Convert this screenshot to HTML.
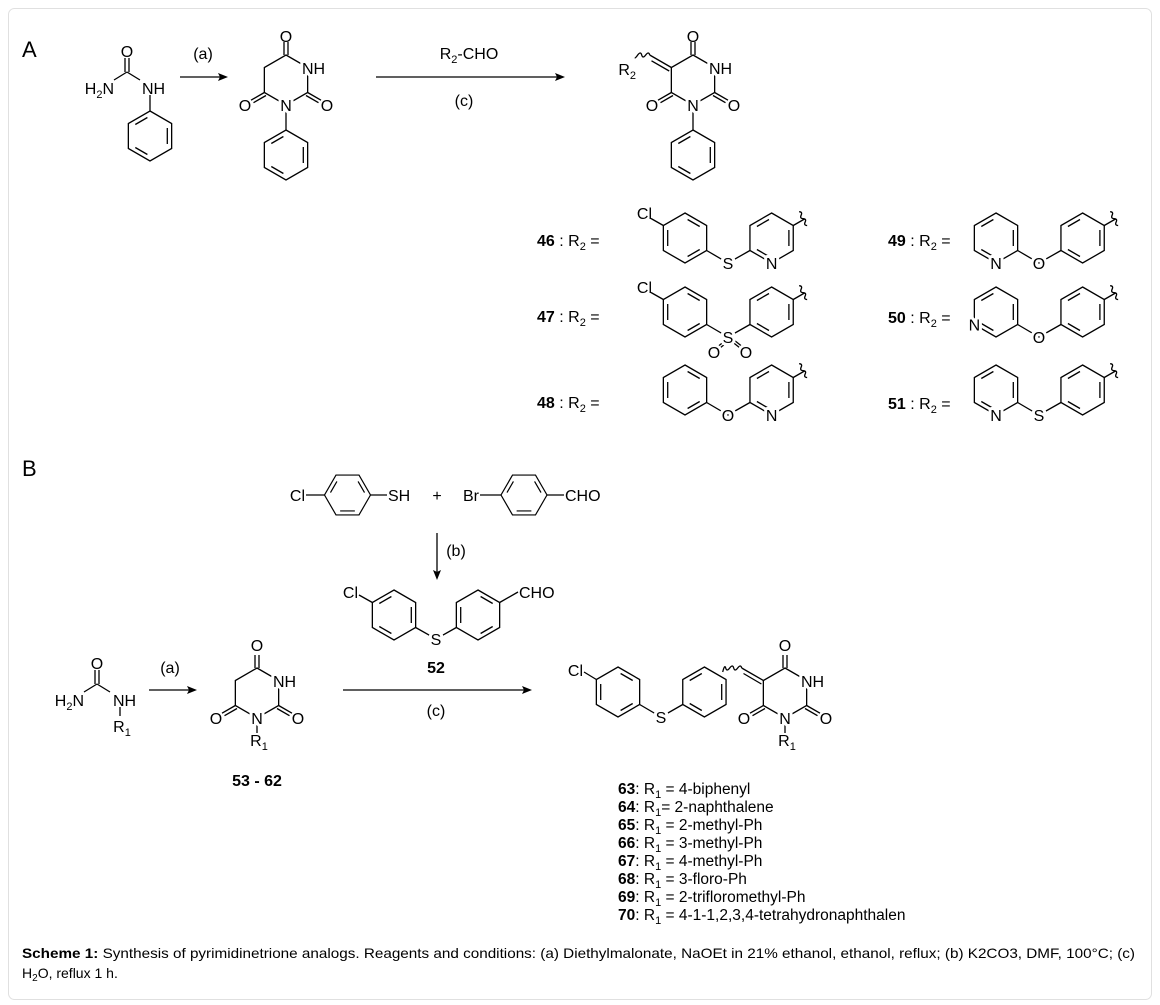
<!DOCTYPE html>
<html><head><meta charset="utf-8">
<style>
html,body{margin:0;padding:0;background:#fff;}
svg{display:block;font-family:"Liberation Sans",Arial,sans-serif;}
.L{stroke:#000;stroke-width:1.3;fill:none;}
.t{font-size:16px;fill:#000;}
.m{paint-order:stroke;stroke:#fff;stroke-width:6px;stroke-linejoin:round;}
.c{text-anchor:middle;}
.e{text-anchor:end;}
.b{font-weight:bold;}
</style></head>
<body>
<svg width="1160" height="1005" viewBox="0 0 1160 1005" xmlns="http://www.w3.org/2000/svg">
<defs>
<path id="hx" d="M0,-25 L21.65,-12.5 L21.65,12.5 L0,25 L-21.65,12.5 L-21.65,-12.5 Z"/>
<g id="b1"><use href="#hx"/><path d="M17.3,-8 V8 M-14.7,-11.5 L-2.6,-18.5 M-2.6,18.5 L-14.7,11.5"/></g>
<g id="b2"><use href="#hx"/><path d="M-17.3,-8 V8 M14.7,-11.5 L2.6,-18.5 M2.6,18.5 L14.7,11.5"/></g>
<g id="barb"><use href="#hx"/><path d="M-2,-25V-38 M2,-25V-38 M21.65,12.5 L35,20.2 M20,15.5 L32.5,22.7 M-21.65,12.5 L-35,20.2 M-20,15.5 L-32.5,22.7"/></g>
<g id="wv"><path d="M0,0 H13 M12,-9 q3,2 0,4 q-3,2 0,4 q3,2 0,4 q-3,2 0,4"/></g>
</defs>

<rect x="8.5" y="8.5" width="1143" height="991" rx="6" fill="#fff" stroke="#e0e0e0"/>

<!-- ================= PART A ================= -->
<text x="22" y="57" style="font-size:22px">A</text>

<g class="L">
<path d="M125,58 V72 M129,58 V72 M127,72 L114,80 M127,72 L140,80 M150,95 V111"/>
<use href="#b1" x="150" y="136"/>
<path d="M180,77 H222"/>
<use href="#barb" x="286" y="80"/>
<path d="M286,112 V130"/>
<use href="#b1" x="286" y="155"/>
<path d="M376,77 H559"/>
<use href="#barb" x="693" y="80"/>
<path d="M671.35,67.5 L649.7,55 M669.2,71 L651.5,60.8"/>
<path d="M649.7,55 q-1,-4 -4,0 q-3,4 -4,0 q-1,-4 -4,0 q-2,3 -3,3"/>
<path d="M693,112 V130"/>
<use href="#b1" x="693" y="155"/>
</g>
<g fill="#000"><path d="M228,77 L218,73 L220,77 L218,81 Z"/><path d="M565,77 L555,73 L557,77 L555,81 Z"/></g>

<g class="t">
<text x="127" y="57" class="c">O</text>
<text x="114" y="94" class="e">H<tspan font-size="11" dy="4">2</tspan><tspan dy="-4">N</tspan></text>
<text x="142" y="94">NH</text>
<text x="203" y="59" class="c">(a)</text>
<text x="286" y="42" class="c">O</text>
<text x="302" y="74" class="m">NH</text>
<text x="286" y="111" class="c m">N</text>
<text x="245" y="111" class="c">O</text>
<text x="327" y="111" class="c">O</text>
<text x="469" y="59" class="c">R<tspan font-size="11" dy="4">2</tspan><tspan dy="-4">-CHO</tspan></text>
<text x="464" y="106" class="c">(c)</text>
<text x="693" y="42" class="c">O</text>
<text x="709" y="74" class="m">NH</text>
<text x="693" y="111" class="c m">N</text>
<text x="652" y="111" class="c">O</text>
<text x="734" y="111" class="c">O</text>
<text x="636" y="75" class="e">R<tspan font-size="11" dy="4">2</tspan></text>
</g>

<g class="L">
<use href="#b2" x="685" y="238"/>
<path d="M663.35,225.5 L651,218.5 M706.65,250.5 L728,263 L749.95,250.5"/>
<use href="#b1" x="771.6" y="238"/>
<use href="#wv" transform="translate(793.25,225.5) rotate(-30)"/>
<use href="#b2" x="685" y="312"/>
<path d="M663.35,299.5 L651,292.5 M706.65,324.5 L728,337 L749.95,324.5 M726,340 L716,348 M730,340 L720,348 M730,340 L740,348 M734,340 L744,348"/>
<use href="#b1" x="771.6" y="312"/>
<use href="#wv" transform="translate(793.25,299.5) rotate(-30)"/>
<use href="#b2" x="685" y="390"/>
<path d="M706.65,402.5 L728,415 L749.95,402.5"/>
<use href="#b1" x="771.6" y="390"/>
<use href="#wv" transform="translate(793.25,377.5) rotate(-30)"/>
<use href="#b1" x="996" y="238"/>
<path d="M1017.65,250.5 L1039,263 L1060.95,250.5"/>
<use href="#b1" x="1082.6" y="238"/>
<use href="#wv" transform="translate(1104.25,225.5) rotate(-30)"/>
<use href="#b1" x="996" y="312"/>
<path d="M1017.65,324.5 L1039,337 L1060.95,324.5"/>
<use href="#b1" x="1082.6" y="312"/>
<use href="#wv" transform="translate(1104.25,299.5) rotate(-30)"/>
<use href="#b1" x="996" y="390"/>
<path d="M1017.65,402.5 L1039,415 L1060.95,402.5"/>
<use href="#b1" x="1082.6" y="390"/>
<use href="#wv" transform="translate(1104.25,377.5) rotate(-30)"/>
</g>

<g class="t">
<text x="537" y="246"><tspan class="b">46</tspan> : R<tspan font-size="11" dy="4">2</tspan><tspan dy="-4"> =</tspan></text>
<text x="537" y="322"><tspan class="b">47</tspan> : R<tspan font-size="11" dy="4">2</tspan><tspan dy="-4"> =</tspan></text>
<text x="537" y="408"><tspan class="b">48</tspan> : R<tspan font-size="11" dy="4">2</tspan><tspan dy="-4"> =</tspan></text>
<text x="888" y="246"><tspan class="b">49</tspan> : R<tspan font-size="11" dy="4">2</tspan><tspan dy="-4"> =</tspan></text>
<text x="888" y="323"><tspan class="b">50</tspan> : R<tspan font-size="11" dy="4">2</tspan><tspan dy="-4"> =</tspan></text>
<text x="888" y="409"><tspan class="b">51</tspan> : R<tspan font-size="11" dy="4">2</tspan><tspan dy="-4"> =</tspan></text>

<text x="652" y="219" class="e">Cl</text>
<text x="728" y="269" class="c m">S</text>
<text x="771.6" y="269" class="c m">N</text>
<text x="652" y="293" class="e">Cl</text>
<text x="728" y="343" class="c m">S</text>
<text x="714" y="358" class="c m">O</text>
<text x="746" y="358" class="c m">O</text>
<text x="728" y="421" class="c m">O</text>
<text x="771.6" y="421" class="c m">N</text>
<text x="996" y="269" class="c m">N</text>
<text x="1039" y="269" class="c m">O</text>
<text x="974.35" y="330.5" class="c m">N</text>
<text x="1039" y="343" class="c m">O</text>
<text x="996" y="421" class="c m">N</text>
<text x="1039" y="421" class="c m">S</text>
</g>

<!-- ================= PART B ================= -->
<text x="22" y="476" style="font-size:22px">B</text>

<g class="L">
<use href="#b1" transform="translate(347.5,495) rotate(90) scale(0.92)"/>
<path d="M306,495 H324.5 M370.5,495 H387"/>
<use href="#b1" transform="translate(524,495) rotate(90) scale(0.92)"/>
<path d="M480,495 H501 M547,495 H564"/>
<path d="M437,533 V574"/>
<use href="#b1" x="394" y="615"/>
<path d="M372.35,602.5 L359,595 M415.65,627.5 L436,639 L456.35,627.5 M499.65,602.5 L518,592"/>
<use href="#b2" x="478" y="615"/>
<path d="M95,670 V684 M99,670 V684 M97,684 L84,692 M97,684 L110,692 M120,707 V716"/>
<path d="M149,690 H191"/>
<use href="#barb" x="257" y="693"/>
<path d="M257,725 V733"/>
<path d="M343,690 H526"/>
<use href="#b2" x="618" y="692"/>
<path d="M596.35,679.5 L584,672 M639.65,704.5 L661,717 L682.75,704.5"/>
<use href="#b1" x="704.4" y="692"/>
<use href="#barb" x="785" y="693"/>
<path d="M763.35,680.5 L741.7,668 M761.4,684 L743.5,673.5"/>
<path d="M741.7,668 q-1,-4 -4,0 q-3,4 -4,0 q-1,-4 -4,0 q-3,4 -4,0 q-1,-4 -3,4"/>
<path d="M785,725 V733"/>
</g>
<g fill="#000">
<path d="M437,580 L433,570 L437,572 L441,570 Z"/>
<path d="M197,690 L187,686 L189,690 L187,694 Z"/>
<path d="M532,690 L522,686 L524,690 L522,694 Z"/>
</g>

<g class="t">
<text x="305" y="501" class="e">Cl</text>
<text x="388" y="501">SH</text>
<text x="437" y="501" class="c">+</text>
<text x="479" y="501" class="e">Br</text>
<text x="565" y="501">CHO</text>
<text x="456" y="556" class="c">(b)</text>
<text x="358" y="598" class="e">Cl</text>
<text x="436" y="645" class="c m">S</text>
<text x="519" y="598">CHO</text>
<text x="436" y="673" class="c b">52</text>

<text x="97" y="669" class="c">O</text>
<text x="84" y="706" class="e">H<tspan font-size="11" dy="4">2</tspan><tspan dy="-4">N</tspan></text>
<text x="113" y="706">NH</text>
<text x="122" y="732" class="c">R<tspan font-size="11" dy="4">1</tspan></text>
<text x="170" y="673" class="c">(a)</text>

<text x="257" y="651" class="c">O</text>
<text x="273" y="687" class="m">NH</text>
<text x="257" y="724" class="c m">N</text>
<text x="216" y="724" class="c">O</text>
<text x="298" y="724" class="c">O</text>
<text x="259" y="746" class="c">R<tspan font-size="11" dy="4">1</tspan></text>
<text x="257" y="786" class="c b">53 - 62</text>
<text x="436" y="716" class="c">(c)</text>

<text x="583" y="676" class="e">Cl</text>
<text x="661" y="723" class="c m">S</text>
<text x="785" y="651" class="c">O</text>
<text x="801" y="687" class="m">NH</text>
<text x="785" y="724" class="c m">N</text>
<text x="744" y="724" class="c">O</text>
<text x="826" y="724" class="c">O</text>
<text x="787" y="746" class="c">R<tspan font-size="11" dy="4">1</tspan></text>
</g>

<g class="t" style="font-size:15.5px">
<text x="618" y="794"><tspan class="b">63</tspan>: R<tspan font-size="11" dy="4">1</tspan><tspan dy="-4"> = 4-biphenyl</tspan></text>
<text x="618" y="812"><tspan class="b">64</tspan>: R<tspan font-size="11" dy="4">1</tspan><tspan dy="-4">= 2-naphthalene</tspan></text>
<text x="618" y="830"><tspan class="b">65</tspan>: R<tspan font-size="11" dy="4">1</tspan><tspan dy="-4"> = 2-methyl-Ph</tspan></text>
<text x="618" y="848"><tspan class="b">66</tspan>: R<tspan font-size="11" dy="4">1</tspan><tspan dy="-4"> = 3-methyl-Ph</tspan></text>
<text x="618" y="866"><tspan class="b">67</tspan>: R<tspan font-size="11" dy="4">1</tspan><tspan dy="-4"> = 4-methyl-Ph</tspan></text>
<text x="618" y="884"><tspan class="b">68</tspan>: R<tspan font-size="11" dy="4">1</tspan><tspan dy="-4"> = 3-floro-Ph</tspan></text>
<text x="618" y="902"><tspan class="b">69</tspan>: R<tspan font-size="11" dy="4">1</tspan><tspan dy="-4"> = 2-trifloromethyl-Ph</tspan></text>
<text x="618" y="920"><tspan class="b">70</tspan>: R<tspan font-size="11" dy="4">1</tspan><tspan dy="-4"> = 4-1-1,2,3,4-tetrahydronaphthalen</tspan></text>
</g>

<g style="font-size:14px" fill="#000">
<text x="22" y="958" textLength="1113" lengthAdjust="spacingAndGlyphs"><tspan font-weight="bold">Scheme 1:</tspan> Synthesis of pyrimidinetrione analogs. Reagents and conditions: (a) Diethylmalonate, NaOEt  in 21% ethanol, ethanol, reflux; (b) K2CO3, DMF, 100°C; (c)</text>
<text x="22" y="978">H<tspan font-size="10" dy="3">2</tspan><tspan dy="-3">O, reflux 1 h.</tspan></text>
</g>
</svg>
</body></html>
